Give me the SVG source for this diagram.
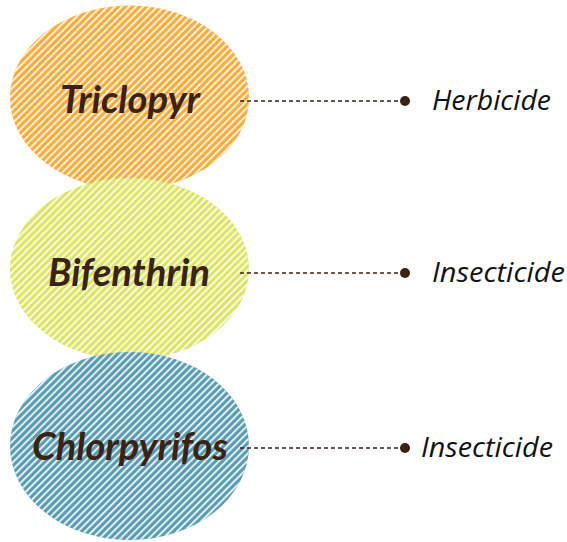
<svg xmlns="http://www.w3.org/2000/svg" width="567" height="542" viewBox="0 0 567 542">
<defs>
<style>
.name{font-family:Lato,"Open Sans",sans-serif;font-weight:bold;font-style:italic;font-size:38px;fill:#3a2214;text-anchor:middle}
.lbl{font-family:"Open Sans",Lato,sans-serif;font-style:italic;font-size:27px;fill:#111}
.conn line{stroke:#3a2214;stroke-width:1.3;stroke-dasharray:4 3}
.conn circle{fill:#3a2214}
</style>
<pattern id="stripe" width="5" height="5" patternUnits="userSpaceOnUse" patternTransform="rotate(45)">
<rect x="0" y="0" width="1.8" height="5" fill="#fff" fill-opacity="0.9"/>
</pattern>
</defs>
<rect width="567" height="542" fill="#fff"/>
<g id="node-triclopyr">
<ellipse cx="129.5" cy="97.5" rx="119.5" ry="92" fill="#fbac3b"/>
<ellipse cx="129.5" cy="97.5" rx="119.5" ry="92" fill="url(#stripe)"/>
<text class="name" x="130" y="113" textLength="140" lengthAdjust="spacingAndGlyphs">Triclopyr</text>
</g>
<g id="node-bifenthrin">
<ellipse cx="129.5" cy="269" rx="119.5" ry="91" fill="#dde564"/>
<ellipse cx="129.5" cy="269" rx="119.5" ry="91" fill="url(#stripe)"/>
<text class="name" x="129" y="286" textLength="162" lengthAdjust="spacingAndGlyphs">Bifenthrin</text>
</g>
<g id="node-chlorpyrifos">
<ellipse cx="129.5" cy="446" rx="119.5" ry="94" fill="#5a9db2"/>
<ellipse cx="129.5" cy="446" rx="119.5" ry="94" fill="url(#stripe)"/>
<text class="name" x="130" y="460" textLength="196" lengthAdjust="spacingAndGlyphs">Chlorpyrifos</text>
</g>
<g id="connectors" class="conn">
<line x1="240" y1="101" x2="405" y2="101"/>
<circle cx="405" cy="101" r="5"/>
<line x1="240" y1="273" x2="405" y2="273"/>
<circle cx="405" cy="273" r="5"/>
<line x1="240" y1="448" x2="405" y2="448"/>
<circle cx="405" cy="448" r="5"/>
</g>
<g id="labels">
<text class="lbl" x="432" y="110" textLength="119" lengthAdjust="spacingAndGlyphs">Herbicide</text>
<text class="lbl" x="432" y="282" textLength="133" lengthAdjust="spacingAndGlyphs">Insecticide</text>
<text class="lbl" x="421" y="457" textLength="132" lengthAdjust="spacingAndGlyphs">Insecticide</text>
</g>
</svg>
